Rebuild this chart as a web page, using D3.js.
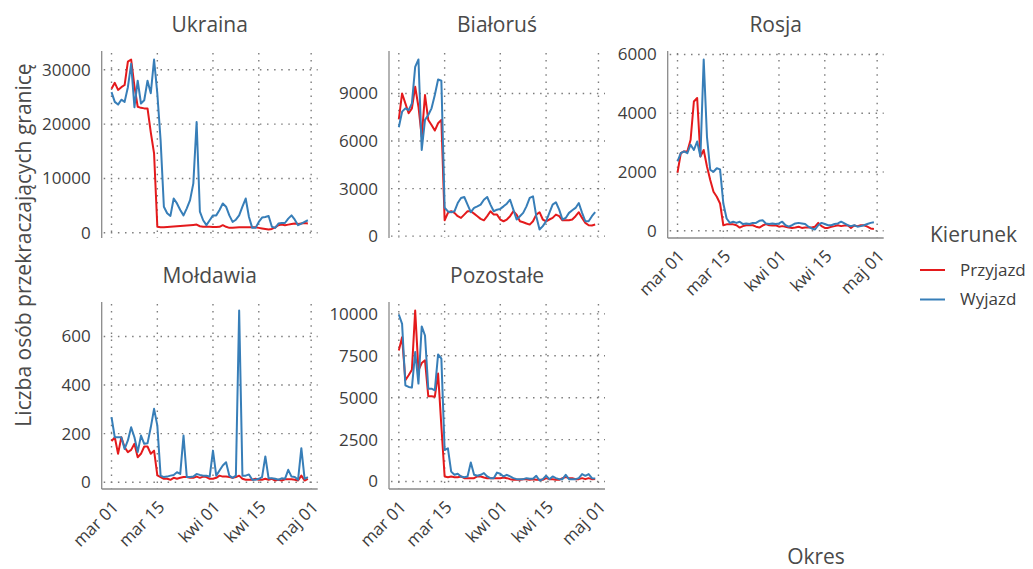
<!DOCTYPE html>
<html>
<head>
<meta charset="utf-8">
<script src="https://cdn.jsdelivr.net/npm/d3@7"></script>
<style>
    body { margin: 0; background: #fff; }
    svg text { font-family: "Open Sans", "Noto Sans", sans-serif; }
</style>
</head>
<body>
<svg id="chart" width="1033" height="569"></svg>
<script>
// daily values, 2022-03-01 .. 2022-04-30
const countries = ["Ukraina", "Białoruś", "Rosja", "Mołdawia", "Pozostałe"];
const directions = ["Przyjazd", "Wyjazd"];

const ukrainaPrzyjazd = [26500, 27600, 26300, 26800, 27200, 31500, 31900, 27000, 23200, 23000, 22900, 22900, 18500, 14600,
    1100, 1000, 1000, 1050, 1100, 1150, 1200, 1250, 1300, 1350, 1400, 1450, 1500, 1200, 1100, 1100, 1100, 1050, 1050, 1100,
    1400, 1100, 900, 900, 950, 1000, 1000, 1000, 1000, 1000, 1000, 900, 800, 700, 600, 700, 1000, 1400, 1500, 1400, 1500,
    1600, 1700, 1600, 1700, 1800, 1700];
const ukrainaWyjazd = [25900, 24100, 23600, 24500, 24100, 26800, 31100, 23100, 28000, 23800, 24400, 28000, 25700, 31900,
    25600, 17000, 4800, 3600, 3100, 6300, 5400, 4200, 3200, 4500, 6000, 9100, 20400, 3900, 2300, 1400, 2300, 3200, 3200,
    4200, 5400, 4800, 3200, 2000, 2400, 3200, 4800, 6300, 2900, 900, 900, 2000, 2800, 2900, 3100, 1100, 900, 1700, 1800,
    1800, 2600, 3200, 2400, 1400, 1700, 2000, 2300];

const bialorusPrzyjazd = [7370, 9000, 8370, 7750, 8060, 9420, 8160, 6280, 8900, 7330, 7010, 6660, 7120, 7330, 1000, 1470,
    1570, 1470, 1260, 1150, 1360, 1570, 1570, 1420, 1260, 1090, 1000, 1260, 1570, 1360, 1360, 1050, 940, 1050, 1260, 1570,
    1360, 940, 880, 800, 730, 940, 1360, 1510, 1050, 940, 1050, 1150, 1360, 1260, 1000, 1000, 1000, 1050, 1260, 1510, 1150,
    840, 690, 670, 730];
const bialorusWyjazd = [6870, 7850, 8060, 7950, 8370, 10680, 11140, 5440, 7330, 7640, 8060, 8900, 9880, 9800, 1800, 1560,
    1510, 1570, 2090, 2410, 2470, 1990, 1510, 1780, 1880, 1990, 2300, 2470, 1990, 1570, 1670, 1720, 1880, 2050, 2300, 1670,
    1050, 1260, 1470, 1880, 2410, 2510, 1260, 420, 630, 940, 1470, 1990, 2140, 1670, 1050, 1150, 1470, 1630, 1780, 2090,
    1470, 940, 940, 1260, 1510];

const rosjaPrzyjazd = [1980, 2640, 2700, 2700, 3100, 4400, 4520, 2530, 2750, 2190, 1730, 1330, 1160, 930, 190, 220, 220,
    220, 190, 110, 160, 190, 190, 190, 140, 110, 180, 230, 190, 180, 190, 140, 160, 140, 110, 100, 110, 140, 100, 110, 110,
    110, 140, 270, 160, 100, 100, 140, 160, 190, 160, 180, 190, 100, 180, 160, 190, 190, 140, 80, 60];
const rosjaWyjazd = [2360, 2640, 2700, 2640, 2930, 2750, 3040, 2530, 5830, 3200, 2070, 2010, 2130, 2090, 930, 420, 270,
    310, 270, 310, 230, 250, 230, 270, 270, 340, 360, 250, 230, 250, 230, 250, 310, 190, 140, 190, 250, 270, 250, 230, 140,
    80, 45, 190, 270, 230, 190, 190, 230, 250, 310, 250, 190, 160, 190, 140, 160, 190, 230, 270, 290];

const moldawiaPrzyjazd = [169, 185, 117, 185, 144, 124, 133, 158, 103, 117, 147, 147, 117, 130, 28, 21, 14, 14, 10, 18,
    14, 18, 21, 21, 18, 18, 23, 18, 23, 21, 14, 14, 18, 27, 23, 23, 21, 18, 21, 27, 14, 10, 10, 10, 14, 10, 10, 14, 10, 14,
    7, 10, 7, 12, 12, 12, 10, 7, 27, 7, 14];
const moldawiaWyjazd = [268, 185, 185, 185, 137, 172, 226, 185, 124, 192, 158, 160, 226, 302, 233, 27, 21, 23, 27, 30, 41,
    34, 192, 21, 21, 23, 34, 30, 27, 27, 23, 130, 27, 48, 69, 82, 27, 18, 27, 707, 27, 27, 32, 10, 10, 14, 21, 106, 16, 16,
    14, 10, 16, 14, 51, 23, 21, 10, 140, 14, 21];

const pozostalePrzyjazd = [7820, 8610, 6040, 6340, 6670, 10200, 6630, 7070, 7230, 5090, 5090, 5050, 6440, 3300, 300, 260,
    300, 260, 260, 300, 200, 200, 200, 200, 300, 300, 240, 200, 200, 200, 200, 200, 240, 200, 140, 100, 100, 100, 140, 140,
    100, 140, 100, 100, 100, 200, 140, 140, 100, 100, 200, 260, 200, 200, 140, 140, 200, 140, 200, 140, 150];
const pozostaleWyjazd = [9960, 9400, 5740, 5640, 5600, 7720, 5840, 9250, 8710, 5540, 5540, 5440, 7580, 7330, 1880, 1980,
    590, 400, 460, 300, 260, 300, 1130, 400, 340, 400, 500, 300, 200, 200, 530, 460, 300, 400, 300, 200, 140, 140, 140, 200,
    160, 160, 340, 60, 140, 340, 140, 300, 200, 140, 140, 400, 140, 140, 140, 200, 440, 340, 440, 200, 180];

const xTickDates = ["2022-03-01", "2022-03-15", "2022-04-01", "2022-04-15", "2022-05-01"];
const xTickLabels = ["mar 01", "mar 15", "kwi 01", "kwi 15", "maj 01"];
const yTicks = [
    [0, 10000, 20000, 30000],
    [0, 3000, 6000, 9000],
    [0, 2000, 4000, 6000],
    [0, 200, 400, 600],
    [0, 2500, 5000, 7500, 10000]
];

const series = [
    [ukrainaPrzyjazd, ukrainaWyjazd],
    [bialorusPrzyjazd, bialorusWyjazd],
    [rosjaPrzyjazd, rosjaWyjazd],
    [moldawiaPrzyjazd, moldawiaWyjazd],
    [pozostalePrzyjazd, pozostaleWyjazd]
];

const dates = d3.utcDays(new Date(Date.UTC(2022, 2, 1)), new Date(Date.UTC(2022, 4, 1)));
const colors = ["#E41A1C", "#377EB8"];

// panel geometry
const colX = [101.7, 389, 667.7],
    rowY = [51, 302],
    panelW = 216,
    panelH = 187;

const svg = d3.select("#chart");
const parse = d3.utcParse("%Y-%m-%d");
const textCol = "#3d3d3d";
const gridDash = "1.5,5.6";

// x scale shared by all panels (ggplot-like 5% expansion)
const span = dates[dates.length - 1] - dates[0];
const x = d3.scaleUtc()
    .domain([new Date(+dates[0] - span * 0.05), new Date(+dates[dates.length - 1] + span * 0.05)])
    .range([0, panelW]);

countries.forEach(function(name, i) {
    let col = i % 3,
        row = Math.floor(i / 3);
    let g = svg.append("g").attr("transform", `translate(${colX[col]},${rowY[row]})`);

    let all = series[i][0].concat(series[i][1]);
    let lo = d3.min(all), hi = d3.max(all), pad = (hi - lo) * 0.05;
    let y = d3.scaleLinear().domain([lo - pad, hi + pad]).range([panelH, 0]);

    // dotted grid
    g.append("g").selectAll("line")
        .data(xTickDates)
        .enter().append("line")
        .attr("x1", d => x(parse(d))).attr("x2", d => x(parse(d)))
        .attr("y1", 2).attr("y2", panelH)
        .attr("stroke", "#7c7c7c").attr("stroke-width", 1.4)
        .attr("stroke-dasharray", gridDash);
    g.append("g").selectAll("line")
        .data(yTicks[i])
        .enter().append("line")
        .attr("x1", 2).attr("x2", panelW)
        .attr("y1", d => y(d)).attr("y2", d => y(d))
        .attr("stroke", "#7c7c7c").attr("stroke-width", 1.4)
        .attr("stroke-dasharray", gridDash);

    // y axis
    let yAxis = g.append("g")
        .call(d3.axisLeft(y).tickValues(yTicks[i]).tickSize(0).tickPadding(11).tickFormat(d3.format("d")));
    yAxis.select(".domain").attr("stroke", "#8a8a8a").attr("stroke-width", 1.3).attr("d", `M0,0V${panelH}`);
    yAxis.selectAll("text").attr("font-size", 17).attr("fill", textCol)
        .attr("font-family", '"Open Sans", "Noto Sans", sans-serif');

    // x axis only on the last panel of each column
    if (i >= 2) {
        let xAxis = g.append("g").attr("transform", `translate(0,${panelH})`)
            .call(d3.axisBottom(x).tickValues(xTickDates.map(parse)).tickSize(0).tickFormat((d, k) => xTickLabels[k]));
        xAxis.select(".domain").attr("stroke", "#8a8a8a").attr("stroke-width", 1.3).attr("d", `M0,0H${panelW}`);
        xAxis.selectAll("text")
            .attr("font-size", 17).attr("fill", textCol)
            .attr("font-family", '"Open Sans", "Noto Sans", sans-serif')
            .attr("text-anchor", "end")
            .attr("y", 0).attr("dy", "0.35em")
            .attr("transform", "translate(3.5,15) rotate(-45)");
    }

    // lines
    let line = d3.line()
        .x((d, k) => x(dates[k]))
        .y(d => y(d));
    series[i].forEach(function(vals, s) {
        g.append("path")
            .datum(vals)
            .attr("fill", "none")
            .attr("stroke", colors[s])
            .attr("stroke-width", 2)
            .attr("stroke-linejoin", "round")
            .attr("d", line);
    });

    // strip title
    g.append("text")
        .attr("x", panelW / 2).attr("y", -19)
        .attr("text-anchor", "middle")
        .attr("font-size", 21).attr("fill", "#4a4a4a")
        .text(name);
});

// axis titles
svg.append("text")
    .attr("transform", "translate(31,245) rotate(-90)")
    .attr("text-anchor", "middle")
    .attr("font-size", 21).attr("fill", "#4a4a4a")
    .text("Liczba osób przekraczających granicę");
svg.append("text")
    .attr("x", 816).attr("y", 564)
    .attr("text-anchor", "middle")
    .attr("font-size", 21).attr("fill", "#4a4a4a")
    .text("Okres");

// legend
let legend = svg.append("g").attr("transform", "translate(920,0)");
legend.append("text")
    .attr("x", 10).attr("y", 242)
    .attr("font-size", 21).attr("fill", "#4a4a4a")
    .text("Kierunek");
directions.forEach(function(d, s) {
    let ly = 270 + s * 29.5;
    legend.append("line")
        .attr("x1", 0).attr("x2", 25).attr("y1", ly).attr("y2", ly)
        .attr("stroke", colors[s]).attr("stroke-width", 2);
    legend.append("text")
        .attr("x", 40).attr("y", ly).attr("dy", "0.35em")
        .attr("font-size", 17).attr("fill", textCol)
        .text(d);
});
</script>
</body>
</html>
